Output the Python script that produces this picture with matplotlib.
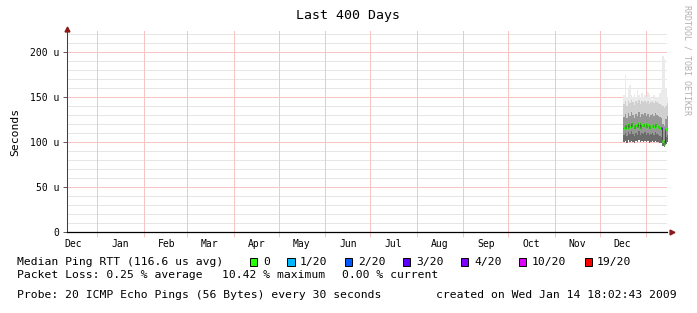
import datetime as dt
import matplotlib
matplotlib.use("Agg")
import matplotlib.pyplot as plt
import matplotlib.dates as mdates
from matplotlib.patches import Rectangle
from matplotlib.ticker import FixedLocator, FuncFormatter

# graph window (400 days ending at creation time)
t_end = dt.datetime(2009, 1, 14, 18, 2, 43)
t_start = t_end - dt.timedelta(days=400)

# daily data, first sample on this date
data_start = dt.datetime(2008, 12, 16, 18, 0)

# median RTT in microseconds
median = [116, 119, 115, 120, 117, 121, 118, 115, 119, 117, 121, 116, 119, 118, 120,
          117, 119, 116, 118, 119, 117, 120, 118, 117, 116, 115, 101, 98, 114, 117]
# smoke envelope (microseconds)
smoke_lo = [100, 101, 99, 102, 100, 101, 100, 99, 101, 100, 102, 100, 101, 100, 101,
            100, 101, 99, 100, 101, 100, 101, 100, 100, 99, 99, 95, 94, 98, 100]
smoke_q1 = [108, 110, 107, 111, 109, 112, 109, 107, 110, 108, 112, 108, 110, 109, 111,
            108, 110, 108, 109, 110, 108, 111, 109, 108, 107, 106, 99, 97, 106, 108]
smoke_q3 = [128, 131, 127, 132, 129, 133, 130, 127, 131, 129, 133, 128, 131, 130, 132,
            129, 131, 128, 130, 131, 129, 132, 130, 129, 128, 127, 120, 118, 126, 129]
smoke_hi = [142, 145, 140, 146, 143, 147, 144, 141, 145, 143, 147, 142, 145, 144, 146,
            143, 145, 142, 144, 145, 143, 146, 144, 143, 142, 141, 140, 138, 140, 143]
smoke_top = [152, 174, 150, 160, 163, 152, 150, 153, 150, 158, 152, 150, 154, 150, 152,
             150, 156, 153, 150, 147, 152, 150, 150, 150, 154, 158, 195, 192, 160, 150]
# lost pings out of 20 per sample
loss = [0, 0, 0, 0, 0, 0, 0, 0, 0, 0, 0, 0, 0, 0, 0,
        0, 0, 0, 0, 0, 0, 0, 0, 0, 0, 3, 0, 0, 0, 0]

loss_labels = ["0", "1/20", "2/20", "3/20", "4/20", "10/20", "19/20"]
loss_levels = [0, 1, 2, 3, 4, 10, 19]
loss_colors = ["#26ff00", "#00b8ff", "#0059ff", "#5e00ff", "#7e00ff", "#dd00ff", "#ff0000"]

y_ticks = [0, 50, 100, 150, 200]

W, H = 697, 313
mono = "DejaVu Sans Mono"
plt.rcParams["font.family"] = mono


def fx(x):
    return x / W


def fy(y):
    return 1 - y / H


def loss_color(n):
    c = loss_colors[0]
    for lev, col in zip(loss_levels, loss_colors):
        if n >= lev:
            c = col
    return c


fig = plt.figure(figsize=(W / 100, H / 100), dpi=100)
fig.patch.set_facecolor("white")
ax = fig.add_axes([fx(67), fy(232), 600 / W, 201 / H])
ax.set_facecolor("white")

grid_pink = "#f7c4c4"
grid_gray = "#e6e6e6"

# horizontal grid
for v in range(10, 230, 10):
    if v % 50 == 0:
        ax.axhline(v, color=grid_pink, lw=0.72, zorder=1)
    else:
        ax.axhline(v, color=grid_gray, lw=0.72, zorder=0.5)

# month grid lines
months = mdates.MonthLocator(bymonthday=1)
for d in months.tick_values(t_start, t_end):
    ax.axvline(d, color=grid_pink, lw=0.72, zorder=1)

# smoke
days = [data_start + dt.timedelta(days=i) for i in range(len(median) + 1)]
xs = mdates.date2num(days)


def ext(a):
    return list(a) + [a[-1]]


layers = [
    (smoke_hi, smoke_top, "#ebebeb"),
    (smoke_q3, smoke_hi, "#d0d0d0"),
    (smoke_q1, smoke_q3, "#979797"),
    (smoke_lo, smoke_q1, "#6c6c6c"),
]
for lo, hi, col in layers:
    ax.fill_between(xs, ext(lo), ext(hi), step="post", color=col, lw=0, zorder=2)

# median line: dark connector plus loss coloured bars
ax.step(xs, ext(median), where="post", color="#303030", lw=0.5, zorder=3)
for i, m in enumerate(median):
    ax.hlines(m, xs[i], xs[i + 1], color=loss_color(loss[i]), lw=2.0, zorder=4)

ax.set_xlim(mdates.date2num(t_start), mdates.date2num(t_end))
ax.set_ylim(0, 223.3)

# axes styling
for s in ["top", "right"]:
    ax.spines[s].set_visible(False)
ax.spines["left"].set_color("#404040")
ax.spines["left"].set_linewidth(0.75)
ax.spines["bottom"].set_color("black")
ax.spines["bottom"].set_linewidth(0.9)

ax.xaxis.set_major_locator(months)
ax.xaxis.set_major_formatter(FuncFormatter(lambda v, p: ""))
ax.xaxis.set_minor_locator(mdates.MonthLocator(bymonthday=16))
ax.xaxis.set_minor_formatter(mdates.DateFormatter("%b"))
ax.tick_params(axis="x", which="major", direction="out", length=3.6,
               color=grid_pink, width=0.72)
ax.tick_params(axis="x", which="minor", length=0, labelsize=7, pad=5)

ax.yaxis.set_major_locator(FixedLocator(y_ticks))
ax.yaxis.set_major_formatter(FuncFormatter(lambda v, p: "0" if v == 0 else "%d u" % v))
ax.tick_params(axis="y", direction="out", length=3, color="#606060", width=0.72,
               labelsize=7, pad=2.5)

# arrow heads
ax.plot([0], [1.012], marker="^", ms=3.5, color="#8b1a1a", transform=ax.transAxes,
        clip_on=False, zorder=6)
ax.plot([1.008], [0], marker=">", ms=3.5, color="#8b1a1a", transform=ax.transAxes,
        clip_on=False, zorder=6)

# titles and labels
fig.text(fx(348), fy(16), "Last 400 Days", ha="center", va="center", fontsize=9.5)
fig.text(fx(15), fy(132), "Seconds", ha="center", va="center", rotation=90, fontsize=8.2)
fig.text(fx(687), fy(5), "RRDTOOL / TOBI OETIKER", ha="center", va="top",
         rotation=270, fontsize=6, color="#b0b0b0")

# legend rows
fs = 8.2
fig.text(fx(17), fy(262), "Median Ping RTT (116.6 us avg)", va="center", fontsize=fs)
box_x = [249.5, 287, 344.5, 402.5, 460.5, 518.5, 584.5]
txt_x = [263, 299.5, 358, 416.5, 474, 531.5, 596.5]
for bx, tx, lab, col in zip(box_x, txt_x, loss_labels, loss_colors):
    fig.patches.append(Rectangle((fx(bx), fy(266)), 7.5 / W, 8 / H, transform=fig.transFigure,
                                 facecolor=col, edgecolor="black", lw=0.7))
    fig.text(fx(tx), fy(262), lab, va="center", fontsize=fs)

fig.text(fx(17), fy(275.5), "Packet Loss: 0.25 % average", va="center", fontsize=fs)
fig.text(fx(221.5), fy(275.5), "10.42 % maximum", va="center", fontsize=fs)
fig.text(fx(342.5), fy(275.5), "0.00 % current", va="center", fontsize=fs)
fig.text(fx(17), fy(295), "Probe: 20 ICMP Echo Pings (56 Bytes) every 30 seconds",
         va="center", fontsize=fs)
fig.text(fx(436.5), fy(295), "created on Wed Jan 14 18:02:43 2009", va="center", fontsize=fs)

fig.savefig("out.png", dpi=100, facecolor="white")
